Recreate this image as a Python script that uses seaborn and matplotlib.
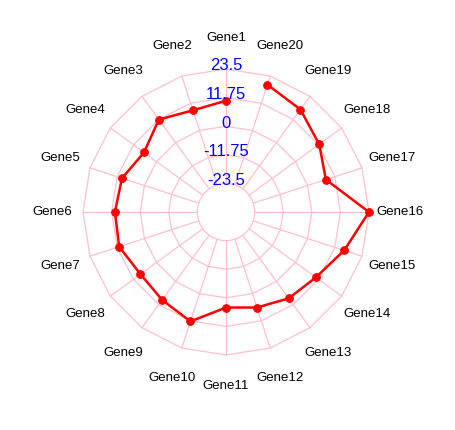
import numpy as np
import matplotlib
matplotlib.use("Agg")
import matplotlib.pyplot as plt
import seaborn as sns

# Data
genes = ["Gene" + str(i) for i in range(1, 21)]
values = [10.5, 8.7, 11.7, 6.4, 9.7, 10.4, 10.9, 8.2, 9.4, 12.0,
          4.0, 6.0, 8.6, 10.4, 15.8, 23.5, 7.9, 12.1, 16.8, 19.8]
ring_levels = [-23.5, -11.75, 0, 11.75, 23.5]
r_min = -35.25

sns.set_style("white")
plt.rcParams['font.family'] = ['Liberation Sans', 'DejaVu Sans']
plt.rcParams['text.color'] = 'black'

fig = plt.figure(figsize=(4.55, 4.3), dpi=100)
ax = fig.add_axes([0.1824, 0.1744, 0.6286, 0.665], projection='polar')
ax.set_theta_zero_location('N')
ax.set_theta_direction(1)
ax.set_ylim(r_min, ring_levels[-1])
ax.grid(False)
ax.set_xticks([])
ax.set_yticks([])
ax.spines['polar'].set_visible(False)
ax.patch.set_alpha(0)

n = len(genes)
theta = np.arange(n) * 2 * np.pi / n
theta_closed = np.append(theta, theta[0])

# Rutnät: innersta ringen som cirkel, resten som polygoner
grid_col = 'pink'
circ = np.linspace(0, 2 * np.pi, 200)
ax.plot(circ, np.full_like(circ, ring_levels[0]), color=grid_col, lw=0.9, clip_on=False)
for lev in ring_levels[1:]:
    ax.plot(theta_closed, np.full_like(theta_closed, lev), color=grid_col, lw=0.9, clip_on=False)
for t in theta:
    ax.plot([t, t], [ring_levels[0], ring_levels[-1]], color=grid_col, lw=0.9, clip_on=False)

# Dataserie
vals_closed = np.append(values, values[0])
sns.lineplot(x=theta_closed, y=vals_closed, sort=False, ax=ax, color='red',
             lw=1.8, marker='o', markersize=5.5, markeredgecolor='red',
             clip_on=False, zorder=5)

# Radiella etiketter
for lev in ring_levels:
    ax.text(0, lev + 1.3, f"{lev:g}", color='blue', fontsize=12,
            ha='center', va='center', zorder=6)

# Gen-etiketter
for t, g in zip(theta, genes):
    ax.text(t, 36.3, g, fontsize=9.5, color='black', ha='center', va='center')

fig.savefig('out.png', dpi=100)
